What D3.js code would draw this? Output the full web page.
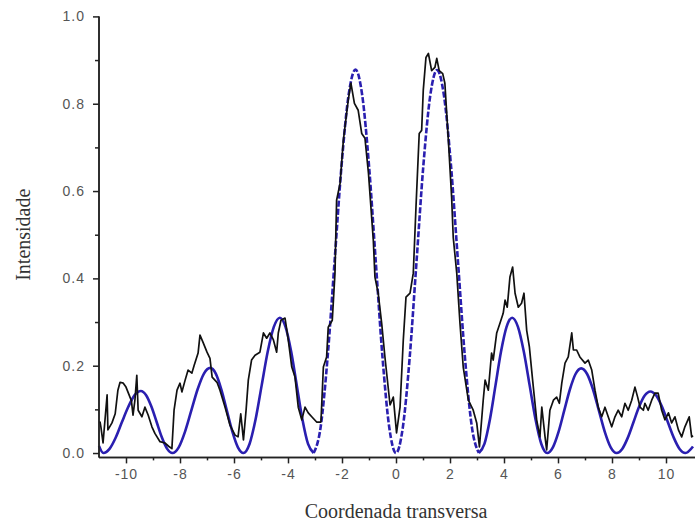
<!DOCTYPE html>
<html><head><meta charset="utf-8">
<script src="https://cdn.jsdelivr.net/npm/d3@7"></script>
<style>body{margin:0;background:#fff}svg{display:block}</style>
</head><body><svg id="c" width="695" height="524"></svg>
<script>
const xMajorTicks = [-10,-8,-6,-4,-2,0,2,4,6,8,10];
const xMinorTicks = [-9,-7,-5,-3,-1,1,3,5,7,9];
const yMajorTicks = [0,0.2,0.4,0.6,0.8,1.0];
const yMinorTicks = [0.1,0.3,0.5,0.7,0.9];
const xLabel = "Coordenada transversa";
const yLabel = "Intensidade";

// experimental profile (black)
const experimental = [
[-11.0,0.07],[-10.96,0.071],[-10.93,0.06],[-10.85,0.023],[-10.7,0.133],[-10.67,0.053],[-10.52,0.069],[-10.4,0.09],
[-10.3,0.144],[-10.22,0.162],[-10.1,0.16],[-10.0,0.151],[-9.93,0.14],[-9.8,0.12],[-9.74,0.087],[-9.67,0.121],
[-9.6,0.178],[-9.55,0.098],[-9.41,0.083],[-9.3,0.105],[-9.18,0.087],[-9.04,0.06],[-8.93,0.045],[-8.74,0.026],
[-8.56,0.023],[-8.41,0.015],[-8.3,0.01],[-8.22,0.098],[-8.11,0.144],[-8.0,0.16],[-7.93,0.14],[-7.81,0.167],
[-7.7,0.19],[-7.56,0.183],[-7.48,0.2],[-7.33,0.229],[-7.26,0.27],[-7.15,0.254],[-7.0,0.231],[-6.89,0.217],
[-6.81,0.174],[-6.63,0.162],[-6.52,0.144],[-6.33,0.105],[-6.15,0.064],[-5.96,0.041],[-5.85,0.037],[-5.75,0.09],
[-5.65,0.03],[-5.55,0.1],[-5.47,0.167],[-5.35,0.213],[-5.22,0.224],[-5.04,0.231],[-4.91,0.275],[-4.79,0.263],
[-4.67,0.275],[-4.54,0.259],[-4.42,0.231],[-4.36,0.275],[-4.26,0.304],[-4.11,0.309],[-3.99,0.259],[-3.86,0.197],
[-3.74,0.174],[-3.62,0.105],[-3.49,0.076],[-3.37,0.105],[-3.25,0.092],[-3.12,0.083],[-2.94,0.071],[-2.78,0.071],
[-2.69,0.197],[-2.57,0.22],[-2.51,0.288],[-2.36,0.304],[-2.26,0.412],[-2.2,0.579],[-2.07,0.618],[-1.95,0.716],
[-1.77,0.808],[-1.67,0.847],[-1.54,0.801],[-1.4,0.785],[-1.27,0.732],[-1.15,0.721],[-1.02,0.641],[-0.84,0.487],
[-0.78,0.403],[-0.66,0.366],[-0.53,0.297],[-0.41,0.22],[-0.22,0.11],[-0.1,0.128],[0.02,0.046],[0.15,0.105],
[0.27,0.259],[0.37,0.357],[0.52,0.366],[0.64,0.412],[0.74,0.563],[0.86,0.732],[0.95,0.739],[1.01,0.831],
[1.11,0.906],[1.2,0.915],[1.32,0.876],[1.44,0.883],[1.51,0.904],[1.6,0.876],[1.73,0.869],[1.81,0.847],
[1.94,0.716],[2.06,0.586],[2.12,0.494],[2.25,0.412],[2.37,0.297],[2.49,0.197],[2.68,0.121],[2.86,0.098],
[2.99,0.069],[3.09,0.014],[3.23,0.121],[3.3,0.167],[3.42,0.144],[3.54,0.229],[3.6,0.213],[3.73,0.275],
[3.85,0.297],[3.97,0.32],[4.04,0.35],[4.12,0.334],[4.22,0.403],[4.32,0.426],[4.41,0.366],[4.53,0.334],
[4.65,0.343],[4.74,0.366],[4.84,0.281],[4.94,0.243],[5.06,0.167],[5.21,0.076],[5.33,0.037],[5.4,0.105],
[5.52,0.037],[5.58,0.007],[5.7,0.098],[5.83,0.121],[5.95,0.128],[6.05,0.114],[6.14,0.16],[6.26,0.206],
[6.38,0.22],[6.51,0.275],[6.57,0.236],[6.69,0.236],[6.81,0.22],[7.0,0.206],[7.12,0.213],[7.25,0.19],
[7.37,0.144],[7.49,0.105],[7.62,0.083],[7.74,0.105],[7.86,0.083],[7.99,0.06],[8.11,0.083],[8.23,0.098],
[8.36,0.083],[8.48,0.114],[8.6,0.098],[8.73,0.121],[8.85,0.151],[8.95,0.128],[9.04,0.105],[9.16,0.098],
[9.22,0.114],[9.34,0.098],[9.47,0.121],[9.59,0.137],[9.71,0.137],[9.84,0.098],[9.96,0.076],[10.09,0.092],
[10.21,0.069],[10.33,0.083],[10.46,0.053],[10.58,0.037],[10.7,0.06],[10.86,0.083],[10.95,0.037],[11.0,0.04]
];

// theoretical profile (blue)
const theory = [
[-11.0,0.016],[-10.84,0],[-10.61,0.0095],[-10.38,0.0355],[-10.15,0.071],[-9.91,0.1065],[-9.68,0.1325],[-9.45,0.142],
[-9.255,0.1325],[-9.06,0.1065],[-8.865,0.071],[-8.67,0.0355],[-8.475,0.0095],[-8.28,0],
[-8.047,0.013],[-7.813,0.049],[-7.58,0.0975],[-7.347,0.146],[-7.113,0.182],[-6.88,0.195],
[-6.675,0.182],[-6.47,0.146],[-6.265,0.0975],[-6.06,0.049],[-5.855,0.013],[-5.65,0],
[-5.425,0.0208],[-5.2,0.0775],[-4.975,0.155],[-4.75,0.2325],[-4.525,0.289],[-4.3,0.31],
[-4.092,0.289],[-3.883,0.2325],[-3.675,0.155],[-3.467,0.0775],[-3.258,0.0208],[-3.05,0],
[-2.792,0.0588],[-2.533,0.2195],[-2.275,0.439],[-2.017,0.6585],[-1.758,0.819],[-1.5,0.878],
[-1.25,0.819],[-1.0,0.6585],[-0.75,0.439],[-0.5,0.2195],[-0.25,0.0588],[0,0],
[0.253,0.0588],[0.507,0.219],[0.76,0.4385],[1.013,0.658],[1.267,0.818],[1.52,0.877],
[1.778,0.818],[2.037,0.658],[2.295,0.4385],[2.553,0.219],[2.812,0.0588],[3.07,0],
[3.275,0.0208],[3.48,0.0775],[3.685,0.155],[3.89,0.2325],[4.095,0.289],[4.3,0.31],
[4.517,0.289],[4.733,0.2325],[4.95,0.155],[5.167,0.0775],[5.383,0.0208],[5.6,0],
[5.81,0.013],[6.02,0.0485],[6.23,0.097],[6.44,0.1455],[6.65,0.181],[6.86,0.194],
[7.078,0.181],[7.297,0.1455],[7.515,0.097],[7.733,0.0485],[7.952,0.013],[8.17,0],
[8.378,0.0094],[8.587,0.0353],[8.795,0.0705],[9.003,0.1058],[9.212,0.1316],[9.42,0.141],
[9.637,0.1316],[9.853,0.1058],[10.07,0.0705],[10.287,0.0353],[10.503,0.0094],[10.72,0],[11.0,0.015]
];
const dashedRange = [-3.05, 3.07];

const svg = d3.select("#c");
const x = d3.scaleLinear().domain([-11, 11]).range([99, 693]);
const y = d3.scaleLinear().domain([-0.01, 1.0]).range([457.4, 16.4]);

const line = d3.line().x(d => x(d[0])).y(d => y(d[1]));
const smooth = d3.line().x(d => x(d[0])).y(d => y(d[1])).curve(d3.curveMonotoneX);

const blue = "#2a1fb0";
const leftPart = theory.filter(d => d[0] <= dashedRange[0]);
const midPart = theory.filter(d => d[0] >= dashedRange[0] && d[0] <= dashedRange[1]);
const rightPart = theory.filter(d => d[0] >= dashedRange[1]);

[leftPart, rightPart].forEach(p => svg.append("path").attr("d", smooth(p))
  .attr("fill","none").attr("stroke",blue).attr("stroke-width",2.6));
svg.append("path").attr("d", smooth(midPart))
  .attr("fill","none").attr("stroke",blue).attr("stroke-width",2.6).attr("stroke-dasharray","6,2");

svg.append("path").attr("d", line(experimental))
  .attr("fill","none").attr("stroke","#111").attr("stroke-width",1.7).attr("stroke-linejoin","round");

// axes
const axisColor = "#222";
const labelColor = "#555";
const gx = svg.append("g").attr("transform", `translate(0,${y(-0.01)})`);
gx.call(d3.axisBottom(x).tickValues(xMajorTicks).tickSize(6).tickPadding(6).tickFormat(d => String(d)));
gx.append("g").call(d3.axisBottom(x).tickValues(xMinorTicks).tickSize(3).tickFormat(""));
gx.selectAll(".domain").attr("d", `M${x(-11)},0H${x(11)+2}`);

const gy = svg.append("g").attr("transform", `translate(${x(-11)},0)`);
gy.call(d3.axisLeft(y).tickValues(yMajorTicks).tickSize(6).tickPadding(8).tickFormat(d => d.toFixed(1)));
gy.append("g").call(d3.axisLeft(y).tickValues(yMinorTicks).tickSize(4).tickFormat(""));
gy.selectAll(".domain").attr("d", `M0,${y(1.0)}V${y(-0.01)}`);

svg.selectAll(".domain").attr("stroke", axisColor).attr("stroke-width", 1.5);
svg.selectAll(".tick line").attr("stroke", axisColor).attr("stroke-width", 1.5);
svg.selectAll(".tick text").attr("fill", labelColor)
  .style("font-family","'Liberation Sans', Arial, sans-serif").style("font-size","14px")
  .style("letter-spacing","1px");

svg.append("text").attr("x", x(0)).attr("y", 518).attr("text-anchor","middle")
  .style("font-family","'Liberation Serif','Times New Roman',serif").style("font-size","20px")
  .attr("fill","#333").text(xLabel);
svg.append("text").attr("transform", `translate(30,${y(0.5)}) rotate(-90)`).attr("text-anchor","middle")
  .style("font-family","'Liberation Serif','Times New Roman',serif").style("font-size","20px")
  .attr("fill","#333").text(yLabel);
</script></body></html>
